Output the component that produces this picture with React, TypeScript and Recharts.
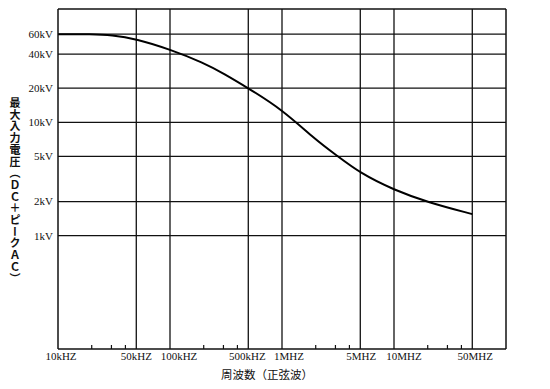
import { ComposedChart, Line, XAxis, YAxis, ReferenceLine } from "recharts";

// frequency (Hz) and max input voltage (V)
const freqs = [1e4, 2e4, 3e4, 5e4, 1e5, 2e5, 3e5, 5e5, 1e6, 2e6, 3e6, 5e6, 1e7, 2e7, 5e7];
const volts = [60000, 60000, 59000, 54500, 44000, 33500, 27000, 20000, 13000, 7000, 5200, 3550, 2530, 1970, 1550];

const xTicks = [1e4, 5e4, 1e5, 5e5, 1e6, 5e6, 1e7, 5e7];
const xLabels = ["10kHZ", "50kHZ", "100kHZ", "500kHZ", "1MHZ", "5MHZ", "10MHZ", "50MHZ"];
const yTicks = [1000, 2000, 5000, 10000, 20000, 40000, 60000];
const yLabels = ["1kV", "2kV", "5kV", "10kV", "20kV", "40kV", "60kV"];
const xGrid = [5e4, 1e5, 5e5, 1e6, 5e6, 1e7, 5e7];
const minorTicks = [2e4, 3e4, 4e4, 2e5, 3e5, 4e5, 2e6, 3e6, 4e6, 2e7, 3e7, 4e7];

// the printed x labels sit a little right of their gridlines so they don't collide
const labelShift = [3, 0, 9, -1, 7, 1, 10, 3];

const data = freqs.map((f, i) => ({ f, v: volts[i] }));

const INK = "#111";
const SERIF = "'Liberation Serif', 'DejaVu Serif', serif";
const CJK = "'Noto Sans CJK JP', sans-serif";

const XTick = (props: any) => {
  const i = xTicks.indexOf(props.payload.value);
  return (
    <text
      x={props.x + (labelShift[i] ?? 0)}
      y={props.y}
      dy="0.71em"
      textAnchor="middle"
      fill={INK}
      fontSize={11}
      fontFamily={SERIF}
    >
      {xLabels[i]}
    </text>
  );
};

const YTitle = (props: any) => {
  const vb = props.viewBox;
  return (
    <text
      x={vb.x + 15}
      y={vb.y + vb.height / 2 + 12}
      textAnchor="middle"
      fill={INK}
      fontSize={11}
      fontWeight={700}
      fontFamily={CJK}
      letterSpacing={0.7}
      style={{ writingMode: "vertical-rl" }}
    >
      最大入力電圧（ＤＣ＋ピークＡＣ）
    </text>
  );
};

export default function App() {
  return (
    <div style={{ position: "absolute", left: 0, top: 0, background: "#fff" }}>
      <ComposedChart
        width={550}
        height={389}
        data={data}
        margin={{ top: 9, right: 44, bottom: 0, left: 0 }}
      >
        <XAxis
          dataKey="f"
          type="number"
          scale="log"
          domain={[1e4, 1e8]}
          allowDataOverflow
          ticks={xTicks}
          tick={<XTick />}
          tickLine={false}
          tickSize={0}
          tickMargin={3}
          height={40}
          axisLine={{ stroke: INK, strokeWidth: 1.5 }}
          interval={0}
          label={{
            value: "周波数（正弦波）",
            position: "insideBottom",
            offset: 10,
            dx: -15,
            fill: INK,
            fontSize: 11.5,
            fontFamily: CJK,
          }}
        />
        <YAxis
          type="number"
          scale="log"
          domain={[100, 100000]}
          allowDataOverflow
          ticks={yTicks}
          tickFormatter={(v: number) => yLabels[yTicks.indexOf(v)] ?? ""}
          tickLine={false}
          tickSize={0}
          tickMargin={5}
          width={58}
          axisLine={{ stroke: INK, strokeWidth: 1.5 }}
          tick={{ fill: INK, fontSize: 11, fontFamily: SERIF }}
          interval={0}
          label={{ content: YTitle }}
        />
        {yTicks.map((v) => (
          <ReferenceLine key={"h" + v} y={v} stroke={INK} strokeWidth={1.3} />
        ))}
        {xGrid.map((v) => (
          <ReferenceLine key={"v" + v} x={v} stroke={INK} strokeWidth={1.3} />
        ))}
        <ReferenceLine y={100000} stroke={INK} strokeWidth={1.5} />
        <ReferenceLine x={1e8} stroke={INK} strokeWidth={1.5} />
        {minorTicks.map((v) => (
          <ReferenceLine
            key={"m" + v}
            segment={[
              { x: v, y: 100 },
              { x: v, y: 108.5 },
            ]}
            stroke={INK}
            strokeWidth={1.2}
          />
        ))}
        <Line
          dataKey="v"
          type="basis"
          stroke="#000"
          strokeWidth={2}
          dot={false}
          isAnimationActive={false}
        />
      </ComposedChart>
    </div>
  );
}
